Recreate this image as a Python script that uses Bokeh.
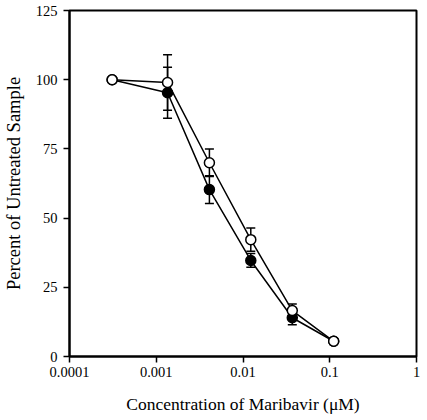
from bokeh.plotting import figure
from bokeh.models import ColumnDataSource, Whisker, TeeHead, FixedTicker
from bokeh.embed import file_html
from bokeh.resources import INLINE

# Data
conc = [0.00031, 0.00135, 0.0041, 0.0123, 0.037, 0.111]
filled_vals = [100.0, 95.3, 60.3, 34.7, 14.0, 5.5]
filled_err = [0.0, 9.2, 5.0, 2.5, 2.5, 0.0]
open_vals = [100.0, 99.0, 70.0, 42.2, 16.6, 5.5]
open_err = [0.0, 10.0, 5.0, 4.2, 2.4, 0.0]

x_ticks = [0.0001, 0.001, 0.01, 0.1, 1]
x_tick_labels = ["0.0001", "0.001", "0.01", "0.1", "1"]
y_ticks = [0, 25, 50, 75, 100, 125]

y_label = "Percent of Untreated Sample"
x_label = "Concentration of Maribavir (\u03bcM)"

FONT = "Liberation Serif"

p = figure(width=427, height=420, x_axis_type="log",
           x_range=(0.0001, 1), y_range=(0, 125),
           output_backend="svg", toolbar_location=None,
           min_border_left=68, min_border_right=11,
           min_border_top=10, min_border_bottom=64)

p.grid.visible = False
p.outline_line_color = "black"
p.outline_line_width = 2
p.background_fill_color = "white"
p.border_fill_color = "white"

for ax in (p.xaxis[0], p.yaxis[0]):
    ax.axis_line_width = 2
    ax.axis_line_color = "black"
    ax.major_tick_line_width = 1.5
    ax.major_tick_line_color = "black"
    ax.major_tick_out = 6
    ax.major_tick_in = 0
    ax.minor_tick_out = 0
    ax.minor_tick_in = 0
    ax.major_label_text_font = FONT
    ax.major_label_text_font_size = "14.5px"
    ax.major_label_text_color = "black"
    ax.axis_label_text_font = FONT
    ax.axis_label_text_font_style = "normal"
    ax.axis_label_text_color = "black"

p.xaxis.ticker = FixedTicker(ticks=x_ticks, minor_ticks=[])
p.xaxis.major_label_overrides = {t: l for t, l in zip(x_ticks, x_tick_labels)}
p.xaxis.major_label_standoff = 4
p.xaxis.axis_label = x_label
p.xaxis.axis_label_text_font_size = "17.5px"
p.xaxis.axis_label_standoff = 14
p.yaxis.ticker = FixedTicker(ticks=y_ticks, minor_ticks=[])
p.yaxis.major_label_standoff = 6
p.yaxis.axis_label = y_label
p.yaxis.axis_label_text_font_size = "18.5px"
p.yaxis.axis_label_standoff = 9

fsrc = ColumnDataSource(dict(
    x=conc, y=filled_vals,
    lo=[v - e for v, e in zip(filled_vals, filled_err)],
    hi=[v + e for v, e in zip(filled_vals, filled_err)]))
osrc = ColumnDataSource(dict(
    x=conc, y=open_vals,
    lo=[v - e for v, e in zip(open_vals, open_err)],
    hi=[v + e for v, e in zip(open_vals, open_err)]))

for src in (fsrc, osrc):
    w = Whisker(base="x", lower="lo", upper="hi", source=src,
                line_color="black", line_width=1.5,
                upper_head=TeeHead(size=9, line_width=1.5, line_color="black"),
                lower_head=TeeHead(size=9, line_width=1.5, line_color="black"))
    p.add_layout(w)

p.line("x", "y", source=fsrc, line_color="black", line_width=1.5)
p.line("x", "y", source=osrc, line_color="black", line_width=1.5)
p.scatter("x", "y", source=fsrc, size=10, marker="circle",
          fill_color="black", line_color="black", line_width=1.5)
p.scatter("x", "y", source=osrc, size=10, marker="circle",
          fill_color="white", line_color="black", line_width=1.5)

open("out.html", "w").write(file_html(p, INLINE))
